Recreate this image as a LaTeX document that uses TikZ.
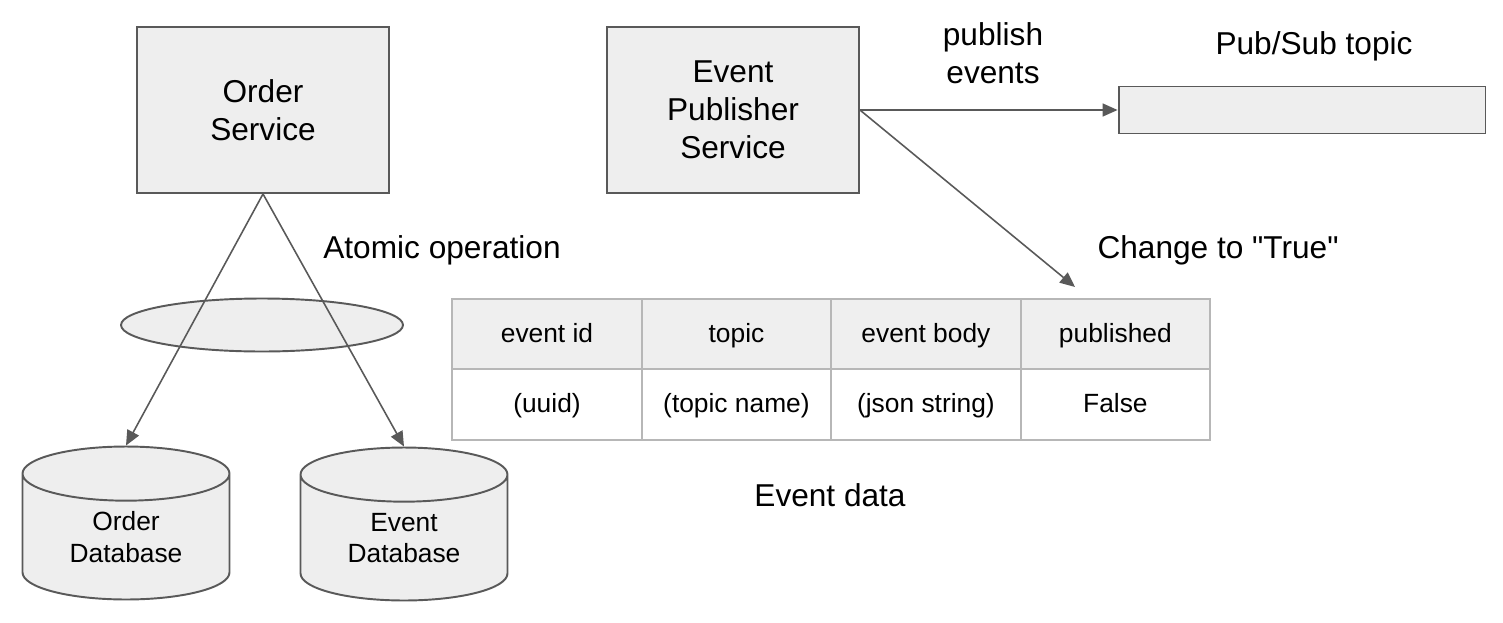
\documentclass[tikz,border=0pt]{standalone}
\usepackage{fontspec}
\setmainfont{Liberation Sans}
\usepackage{tikz}
\usetikzlibrary{shapes.geometric,arrows.meta,positioning}
\definecolor{boxline}{HTML}{595959}
\definecolor{boxfill}{HTML}{EEEEEE}
\definecolor{cellline}{HTML}{B7B7B7}
\definecolor{cellfill}{HTML}{EFEFEF}
\newcommand{\bigtext}{\fontsize{18}{21.6}\selectfont}
\newcommand{\smalltext}{\fontsize{15}{18}\selectfont}
\tikzstyle{line} = [draw=boxline, line width=0.9pt, -{Triangle[length=0.3cm, width=0.26cm]}]
\tikzstyle{block} = [draw=boxline, fill=boxfill, rectangle, line width=1.1pt, text centered, align=center, font=\bigtext]
\tikzstyle{db} = [draw=boxline, fill=boxfill, cylinder, shape border rotate=90, aspect=0.48, line width=1.1pt, minimum width=4.14cm, minimum height=3.06cm, inner sep=0pt, align=center, font=\smalltext]
\tikzstyle{cell} = [draw=cellline, rectangle, line width=1.1pt, minimum width=3.79cm, minimum height=1.41cm, inner sep=0pt, outer sep=0pt, text height=2.1ex, text depth=0.3ex, font=\smalltext]
\tikzstyle{head} = [cell, fill=cellfill]
\tikzstyle{label} = [align=center, font=\bigtext]

\begin{document}
\begin{tikzpicture}[x=0.02cm, y=-0.02cm, node distance=0pt]
    \useasboundingbox (0,0) rectangle (1503,622);
    \node[block, minimum width=5.04cm, minimum height=3.32cm] (order) at (263,110) {Order\\Service};
    \node[block, minimum width=5.04cm, minimum height=3.32cm] (publisher) at (733,110) {Event\\Publisher\\Service};
    \node[block, minimum width=7.34cm, minimum height=0.94cm] (topic) at (1302,110) {};
    \node[ellipse, draw=boxline, fill=boxfill, line width=1.1pt, minimum width=5.64cm, minimum height=1.06cm, inner sep=0pt] (atomic) at (262,325) {};
    \node[db, anchor=shape center] (orderdb) at (126,523) {Order\\Database};
    \node[db, anchor=shape center] (eventdb) at (404,524) {Event\\Database};
    \node[head] (idhead) at (547,334) {event id};
    \node[head, right=of idhead] (topichead) {topic};
    \node[head, right=of topichead] (bodyhead) {event body};
    \node[head, right=of bodyhead] (pubhead) {published};
    \node[cell, below=of idhead] (idval) {(uuid)};
    \node[cell, below=of topichead] (topicval) {(topic name)};
    \node[cell, below=of bodyhead] (bodyval) {(json string)};
    \node[cell, below=of pubhead] (pubval) {False};
    \node[label] (publish) at (993,53) {publish\\events};
    \node[label] (topicname) at (1314,46) {Pub/Sub topic};
    \node[label] (change) at (1218,250) {Change to \textquotedbl True\textquotedbl};
    \node[label] (atomicname) at (442,250) {Atomic operation};
    \node[label] (eventdata) at (830,495) {Event data};
    \coordinate (flag) at (1075,287);
    \path[line] (order.south) -- (orderdb.top);
    \path[line] (order.south) -- (eventdb.top);
    \path[line] (publisher.east) -- (topic.west);
    \path[line] (publisher.east) -- (flag);
\end{tikzpicture}
\end{document}
